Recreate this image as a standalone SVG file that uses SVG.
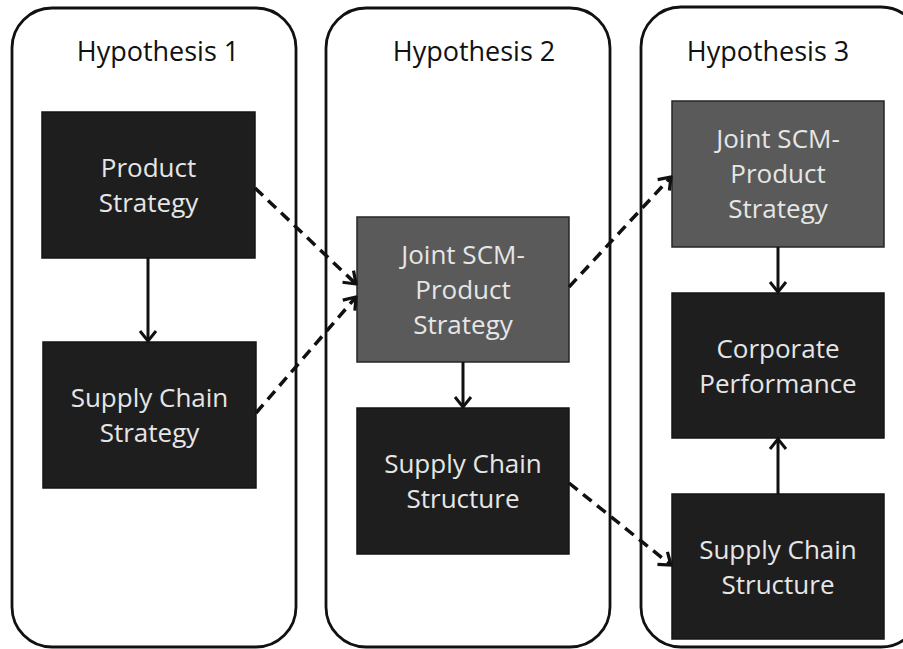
<svg xmlns="http://www.w3.org/2000/svg" width="903" height="649" viewBox="0 0 903 649">
<style>
.cont{fill:#ffffff;stroke:#111;stroke-width:2.8}
.dark{fill:#1e1e1e;stroke:#151515;stroke-width:1.5}
.gray{fill:#5a5a5a;stroke:#262626;stroke-width:1.5}
.title{font-family:"Open Sans","Noto Sans",sans-serif;font-size:27px;fill:#111;text-anchor:middle}
.lbl{font-family:"Open Sans","Noto Sans",sans-serif;font-size:26px;fill:#e6e6e6;text-anchor:middle}
.solid{fill:none;stroke:#111;stroke-width:3;marker-end:url(#ah)}
.dash{fill:none;stroke:#111;stroke-width:3.5;stroke-dasharray:11 7;marker-end:url(#ahd)}
</style>
<defs>
<marker id="ah" viewBox="-13 -10 15 20" refX="0" refY="0" markerWidth="15" markerHeight="20" markerUnits="userSpaceOnUse" orient="auto">
<path d="M-10,-8 L0,0 L-10,8" fill="none" stroke="#111" stroke-width="3"/>
</marker>
<marker id="ahd" viewBox="-13 -10 15 20" refX="0" refY="0" markerWidth="15" markerHeight="20" markerUnits="userSpaceOnUse" orient="auto">
<path d="M-11,-8 L0,0 L-11,8" fill="none" stroke="#111" stroke-width="3.2"/>
</marker>
</defs>
<rect width="903" height="649" fill="#ffffff"/>
<g id="hypothesis1">
<rect class="cont" x="12" y="8" width="284" height="639" rx="40" ry="40"/>
<text class="title" x="158" y="61">Hypothesis 1</text>
</g>
<g id="hypothesis2">
<rect class="cont" x="326" y="8" width="284" height="639" rx="40" ry="40"/>
<text class="title" x="474" y="61">Hypothesis 2</text>
</g>
<g id="hypothesis3">
<rect class="cont" x="641" y="7" width="280" height="640" rx="40" ry="40"/>
<text class="title" x="768" y="61">Hypothesis 3</text>
</g>
<g id="product-strategy">
<rect class="dark" x="42" y="112" width="213" height="146"/>
<text class="lbl" x="148.5" y="177">Product</text>
<text class="lbl" x="148.5" y="212">Strategy</text>
</g>
<g id="supply-chain-strategy">
<rect class="dark" x="43" y="342" width="213" height="146"/>
<text class="lbl" x="149.5" y="407">Supply Chain</text>
<text class="lbl" x="149.5" y="442">Strategy</text>
</g>
<g id="joint-strategy-2">
<rect class="gray" x="357" y="217" width="212" height="145"/>
<text class="lbl" x="463" y="264">Joint SCM-</text>
<text class="lbl" x="463" y="299">Product</text>
<text class="lbl" x="463" y="334">Strategy</text>
</g>
<g id="supply-chain-structure-2">
<rect class="dark" x="357" y="408" width="212" height="146"/>
<text class="lbl" x="463" y="473">Supply Chain</text>
<text class="lbl" x="463" y="508">Structure</text>
</g>
<g id="joint-strategy-3">
<rect class="gray" x="672" y="101" width="212" height="146"/>
<text class="lbl" x="778" y="148">Joint SCM-</text>
<text class="lbl" x="778" y="183">Product</text>
<text class="lbl" x="778" y="218">Strategy</text>
</g>
<g id="corporate-performance">
<rect class="dark" x="672" y="293" width="212" height="145"/>
<text class="lbl" x="778" y="357.5">Corporate</text>
<text class="lbl" x="778" y="392.5">Performance</text>
</g>
<g id="supply-chain-structure-3">
<rect class="dark" x="672" y="494" width="212" height="145"/>
<text class="lbl" x="778" y="558.5">Supply Chain</text>
<text class="lbl" x="778" y="593.5">Structure</text>
</g>
<g id="connectors">
<line class="solid" x1="148" y1="258" x2="148" y2="341"/>
<line class="solid" x1="463" y1="362" x2="463" y2="407"/>
<line class="solid" x1="778" y1="247" x2="778" y2="292"/>
<line class="solid" x1="778" y1="494" x2="778" y2="439"/>
<line class="dash" x1="255" y1="188" x2="356" y2="284"/>
<line class="dash" x1="256" y1="413" x2="356" y2="297"/>
<line class="dash" x1="569" y1="287" x2="671" y2="177"/>
<line class="dash" x1="569" y1="483" x2="671" y2="565"/>
</g>
</svg>
